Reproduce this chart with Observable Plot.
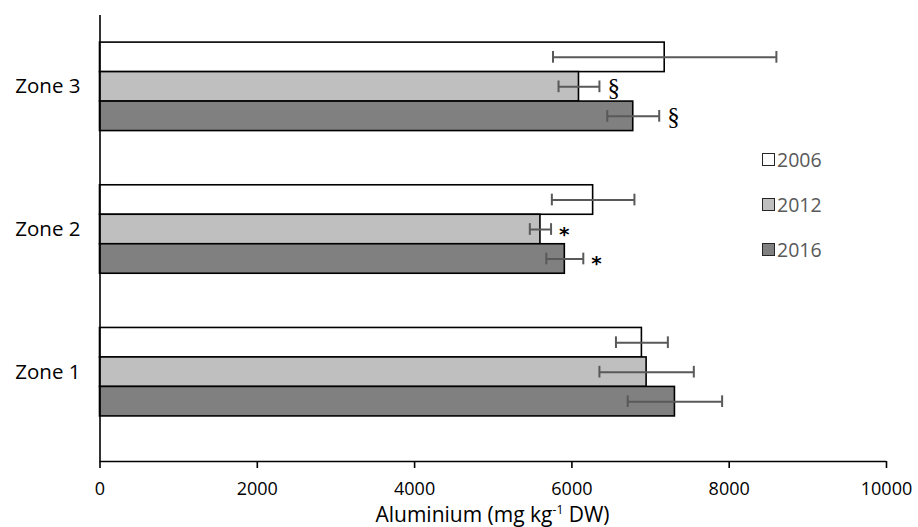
<!DOCTYPE html>
<html>
<head>
<meta charset="utf-8">
<script src="https://cdn.jsdelivr.net/npm/d3@7"></script>
<script src="https://cdn.jsdelivr.net/npm/@observablehq/plot@0.6"></script>
<style>
  html, body { margin: 0; padding: 0; background: #fff; }
  #wrap { position: relative; width: 918px; height: 527px; font-family: "Open Sans", sans-serif; }
  #chart { position: absolute; left: 0; top: 0; }
  #title { position: absolute; left: 0; top: 500px; width: 918px; box-sizing: border-box; padding-left: 67px; text-align: center; font-size: 21px; color: #000; line-height: 28px; white-space: nowrap; }
  #title sup { font-size: 12px; vertical-align: 8px; line-height: 0; }
  #legend { position: absolute; left: 762px; top: 146px; }
  .lg { display: flex; align-items: center; height: 27px; margin-bottom: 18px; font-size: 19.5px; color: #595959; }
  .sw { width: 11px; height: 11px; border: 1.5px solid #262626; margin-right: 2px; }
</style>
</head>
<body>
<div id="wrap">
  <div id="chart"></div>
  <div id="legend"></div>
  <div id="title">Aluminium (mg kg<sup>-1</sup> DW)</div>
</div>
<script>
// ---- data ----
const zones = ["Zone 1", "Zone 2", "Zone 3"];
const years = ["2006", "2012", "2016"];
const fills = ["#ffffff", "#bfbfbf", "#808080"];
const mean2006 = [6890, 6270, 7180];
const mean2012 = [6950, 5600, 6090];
const mean2016 = [7310, 5910, 6780];
const err2006 = [330, 525, 1420];
const err2012 = [600, 135, 260];
const err2016 = [600, 235, 330];
const sig2006 = ["", "", ""];
const sig2012 = ["", "*", "§"];
const sig2016 = ["", "*", "§"];
const xTicks = [0, 2000, 4000, 6000, 8000, 10000];

// ---- layout within each zone band (band = 1 unit on y) ----
const gap = 0.19;
const t = (1 - 2 * gap) / 3;
const cap = 0.041;
const yLow = -0.126; // axis sits a little below the lowest band

const means = [mean2006, mean2012, mean2016];
const errs = [err2006, err2012, err2016];
const sigs = [sig2006, sig2012, sig2016];
const rows = [];
zones.forEach((z, k) => {
  years.forEach((yr, j) => {
    const yTop = k + 1 - gap - j * t;
    const yBot = yTop - t;
    rows.push({zone: z, year: yr, value: means[j][k], err: errs[j][k], sig: sigs[j][k],
      yTop, yBot, yc: (yTop + yBot) / 2});
  });
});

const chart = Plot.plot({
  width: 918,
  height: 527,
  marginLeft: 99.5,
  marginRight: 32,
  marginTop: 15,
  marginBottom: 66,
  style: {fontFamily: "Open Sans, sans-serif", fontSize: "18px", color: "#000", background: "transparent"},
  x: {domain: [0, 10000]},
  y: {domain: [yLow, 3]},
  color: {domain: years, range: fills},
  marks: [
    Plot.rect(rows, {x1: 0, x2: "value", y1: "yBot", y2: "yTop", fill: "year", stroke: "#000", strokeWidth: 1.6}),
    Plot.ruleY(rows, {y: "yc", x1: d => d.value - d.err, x2: d => d.value + d.err, stroke: "#595959", strokeWidth: 2}),
    Plot.ruleX(rows, {x: d => d.value - d.err, y1: d => d.yc - cap, y2: d => d.yc + cap, stroke: "#595959", strokeWidth: 2}),
    Plot.ruleX(rows, {x: d => d.value + d.err, y1: d => d.yc - cap, y2: d => d.yc + cap, stroke: "#595959", strokeWidth: 2}),
    Plot.text(rows.filter(d => d.sig === "§"), {x: d => d.value + d.err, y: "yc", text: "sig", textAnchor: "start", dx: 8, dy: 1,
      fontFamily: "Liberation Serif, serif", fontSize: 25, fill: "#000"}),
    Plot.text(rows.filter(d => d.sig === "*"), {x: d => d.value + d.err, y: "yc", text: "sig", textAnchor: "start", dx: 8, dy: 5,
      fontFamily: "DejaVu Sans, sans-serif", fontWeight: "bold", fontSize: 20, fill: "#000"}),
    Plot.ruleX([0], {stroke: "#000", strokeWidth: 1.6}),
    Plot.ruleY([yLow], {stroke: "#000", strokeWidth: 1.6}),
    Plot.axisX({ticks: xTicks, tickSize: 7, tickPadding: 14, tickFormat: d => String(d), label: null, stroke: "#000", strokeWidth: 1.6, fill: "#000", fontSize: 18}),
    Plot.axisY({ticks: zones.map((z, k) => k + 0.5), tickFormat: v => zones[Math.floor(v)], tickSize: 0, tickPadding: 19.5, label: null, fill: "#000", fontSize: 20.5})
  ]
});
document.getElementById("chart").appendChild(chart);

// ---- legend ----
const legend = document.getElementById("legend");
years.forEach((yr, j) => {
  const row = document.createElement("div");
  row.className = "lg";
  const sw = document.createElement("span");
  sw.className = "sw";
  sw.style.background = fills[j];
  const tx = document.createElement("span");
  tx.textContent = yr;
  row.appendChild(sw);
  row.appendChild(tx);
  legend.appendChild(row);
});
</script>
</body>
</html>
